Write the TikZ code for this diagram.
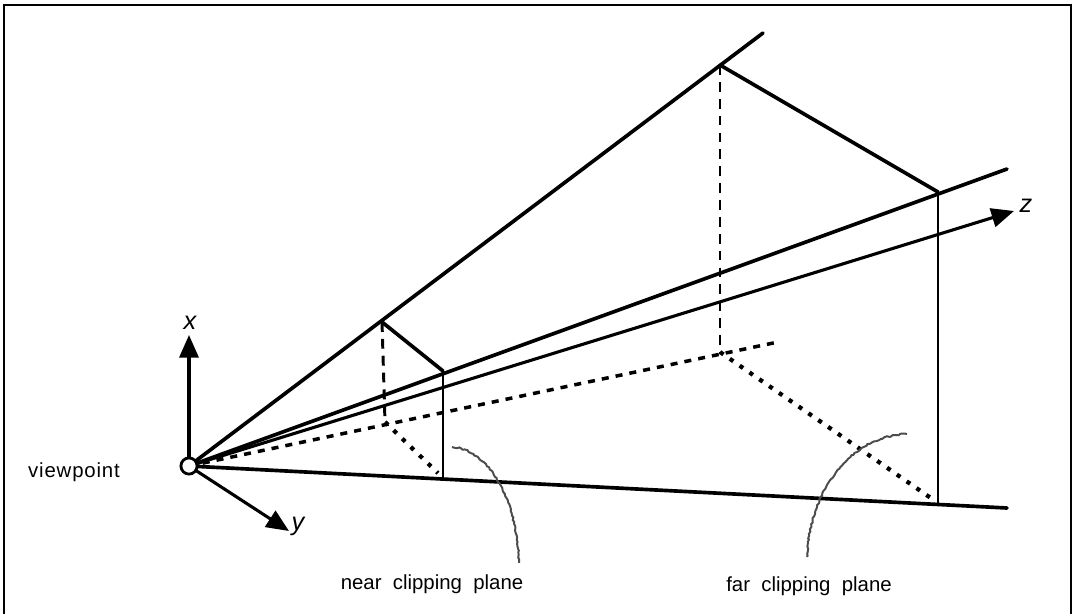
\documentclass[tikz,border=0pt]{standalone}
\usepackage{fontspec}
\setmainfont{Liberation Sans}
\usetikzlibrary{arrows.meta,decorations.pathmorphing}
\tikzset{
    edgeline/.style={black, line width=2.6pt, line cap=round},
    sideline/.style={black, line width=2.1pt},
    axisline/.style={black, line width=2.2pt, -{Triangle[length=16pt,width=13.5pt]}},
    hiddenline/.style={black, line width=2.1pt, dash pattern=on 7pt off 5pt},
    backline/.style={black, line width=2.5pt, dash pattern=on 5pt off 5pt},
    floorline/.style={black, line width=3pt, dash pattern=on 3pt off 5.5pt, shorten >=5pt},
    leaderline/.style={black!70, line width=1.4pt, decorate, decoration={random steps, segment length=1.6pt, amplitude=0.5pt}},
    axislabel/.style={font=\itshape\fontsize{18}{18}\selectfont, inner sep=0pt},
    planelabel/.style={font=\fontsize{14.5}{15}\selectfont, inner sep=0pt}
}
\begin{document}
\begin{tikzpicture}[x=0.025cm, y=-0.025cm]
    \useasboundingbox (0,0) rectangle (1073,614);
    \fill[white] (0,0) rectangle (1073,614);
    \draw[black, line width=1.6pt] (4,614) -- (4,5) -- (1071,5) -- (1071,614);

    \coordinate (nearTop) at (382,322);
    \coordinate (nearRight) at (443,371);
    \coordinate (nearBottom) at (443,478);
    \coordinate (nearBack) at (385,422);
    \coordinate (farTop) at (720,65);
    \coordinate (farRight) at (938,192);
    \coordinate (farBottom) at (938,503);
    \coordinate (farBack) at (720,352);
    \coordinate (topEnd) at (763,33);
    \coordinate (sideEnd) at (1007,169);
    \coordinate (bottomEnd) at (1007,508);
    \coordinate (backEnd) at (778,342);
    \coordinate (xTip) at (189,335);
    \coordinate (yTip) at (289,531);
    \coordinate (zTip) at (1014,211);

    \coordinate (viewCenter) at (189,466);

    \draw[backline] (viewCenter) -- (backEnd);
    \draw[floorline] (nearBack) -- (nearBottom);
    \draw[floorline] (farBack) -- (farBottom);
    \draw[hiddenline] (nearTop) -- (nearBack);
    \draw[hiddenline] (farTop) -- (farBack);

    \draw[edgeline] (viewCenter) -- (topEnd);
    \draw[edgeline] (viewCenter) -- (sideEnd);
    \draw[edgeline] (viewCenter) -- (bottomEnd);
    \draw[edgeline] (nearTop) -- (nearRight);
    \draw[edgeline] (farTop) -- (farRight);
    \draw[sideline] (nearRight) -- (nearBottom);
    \draw[sideline] (farRight) -- (farBottom);

    \draw[axisline] (viewCenter) -- (xTip);
    \draw[axisline] (viewCenter) -- (yTip);
    \draw[axisline] (viewCenter) -- (zTip);

    \node[circle, draw, line width=2pt, fill=white, minimum size=11.5pt, inner sep=0pt] (viewpoint) at (viewCenter) {};

    \draw[leaderline] (452,447) .. controls (490,450) and (517,500) .. (519,563);
    \draw[leaderline] (907,434) .. controls (850,436) and (810,490) .. (807,557);

    \node[axislabel] (xLabel) at (190,323) {x};
    \node[axislabel] (yLabel) at (298,526) {y};
    \node[axislabel] (zLabel) at (1026,206) {z};
    \node[planelabel] (viewLabel) at (74,472) {\addfontfeature{LetterSpace=4}viewpoint};
    \node[planelabel] (nearLabel) at (432,584) {near\ \ clipping\ \ plane};
    \node[planelabel] (farLabel) at (809,586) {far\ \ clipping\ \ plane};
\end{tikzpicture}
\end{document}
